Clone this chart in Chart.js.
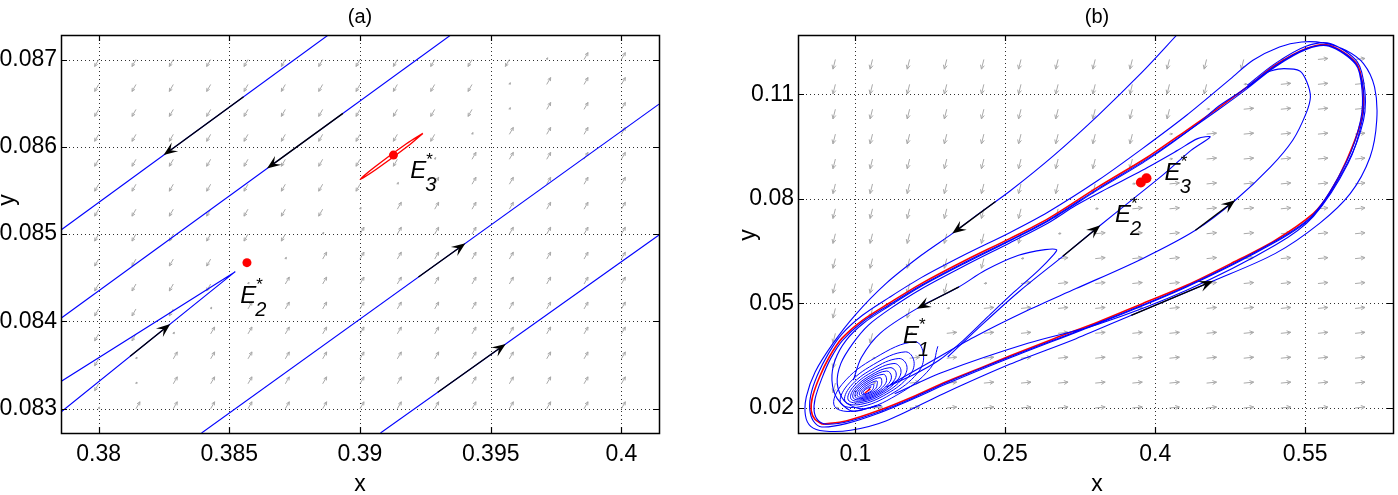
<!DOCTYPE html>
<html><head><meta charset="utf-8">
<script src="https://cdn.jsdelivr.net/npm/chart.js@4/dist/chart.umd.min.js"></script>
<style>
html,body{margin:0;padding:0;background:#fff;}
body{width:1398px;height:495px;overflow:hidden;position:relative;}
.p{position:absolute;top:0;}
</style></head><body>
<div class="p" style="left:0;width:700px;height:495px"><canvas id="ca" width="700" height="495"></canvas></div>
<div class="p" style="left:700px;width:698px;height:495px"><canvas id="cb" width="698" height="495"></canvas></div>
<script>
// ---------------- Panel (a) data ----------------
const aXTicks = [0.38, 0.385, 0.39, 0.395, 0.4];
const aXTickLabels = ['0.38', '0.385', '0.39', '0.395', '0.4'];
const aYTicks = [0.083, 0.084, 0.085, 0.086, 0.087];
const aYTickLabels = ['0.083', '0.084', '0.085', '0.086', '0.087'];
const aXRange = [0.37856, 0.40144];
const aYRange = [0.082722, 0.087281];
const aTraj1 = [[0.37856, 0.085047], [0.388784, 0.087281]];
const aTraj2 = [[0.37856, 0.084037], [0.393472, 0.087281]];
const aTraj3 = [[0.383939, 0.082722], [0.40144, 0.086489]];
const aTraj4 = [[0.390784, 0.082722], [0.40144, 0.08499]];
const aTrajV = [[0.37856, 0.082962], [0.385228, 0.08457], [0.37856, 0.083312]];
const aE3Loop = [[0.392405, 0.086154], [0.391837, 0.086009], [0.390638, 0.085746], [0.390008, 0.085627],
                 [0.390576, 0.085772], [0.391775, 0.086035], [0.392405, 0.086154]];
const aEqX = [0.385675, 0.39128];
const aEqY = [0.084673, 0.085905];
const aArrows = [
  [0.385545, 0.086573, 0.382486, 0.085905],
  [0.389346, 0.086383, 0.38644, 0.085751],
  [0.392237, 0.084508, 0.394034, 0.084895],
  [0.392975, 0.083188, 0.395576, 0.083742],
  [0.381205, 0.0836, 0.382742, 0.083971]
];
const aLabels = [['E', '3', 0.39192, 0.085639], ['E', '2', 0.385419, 0.084212]];
const aQX = [0.38, 0.3814286, 0.3828571, 0.3842857, 0.3857143, 0.3871429, 0.3885714, 0.39, 0.3914286, 0.3928571, 0.3942857, 0.3957143, 0.3971429, 0.3985714, 0.4];
const aQY = [0.087, 0.0867143, 0.0864286, 0.0861429, 0.0858571, 0.0855714, 0.0852857, 0.085, 0.0847143, 0.0844286, 0.0841429, 0.0838571, 0.0835714, 0.0832857, 0.083];
const aQPattern = [
  'LLLLLLLLLLLLsRR',
  'LLLLLLLLLLLsRRR',
  'LLLLLLLLLLLsRRR',
  'LLLLLLLLLLsRRRR',
  'LLLLLLLLLsRRRRR',
  'LLLLLLLLsRRRRRR',
  'LLLLLLLsRRRRRRR',
  'LLLLLLsRRRRRRRR',
  'LLLLLsRRRRRRRRR',
  'LLLLsRRRRRRRRRR',
  'LLLsRRRRRRRRRRR',
  'LLsRRRRRRRRRRRR',
  'LsRRRRRRRRRRRRR',
  'LsRRRRRRRRRRRRR',
  'sRRRRRRRRRRRRRR'
];
const aQDir = {L: [-0.0000191, -0.00000995], R: [0.0000191, 0.00000995], s: [0.0000191, 0.00000995]};

// ---------------- Panel (b) data ----------------
const bXTicks = [0.1, 0.25, 0.4, 0.55];
const bXTickLabels = ['0.1', '0.25', '0.4', '0.55'];
const bYTicks = [0.02, 0.05, 0.08, 0.11];
const bYTickLabels = ['0.02', '0.05', '0.08', '0.11'];
const bXRange = [0.04259, 0.63795];
const bYRange = [0.01283, 0.12701];
const bCycle = [[0.06726,0.01533],[0.09071,0.01628],[0.12389,0.01934],[0.15708,0.02317],[0.19027,0.02747],[0.22345,0.0313],[0.2562,0.03512],[0.29867,0.0399],[0.34292,0.04469],[0.38717,0.04994],[0.43142,0.0552],[0.47566,0.06142],[0.51991,0.06811],[0.5584,0.07586],[0.57434,0.0816],[0.5916,0.09107],[0.6062,0.10254],[0.60796,0.11115],[0.60133,0.11889],[0.57434,0.12406],[0.55177,0.1232],[0.51991,0.11832],[0.49204,0.1121],[0.46239,0.10589],[0.43142,0.09967],[0.39248,0.09202],[0.34292,0.08342],[0.29292,0.07433],[0.25442,0.06859],[0.21018,0.06238],[0.16593,0.05568],[0.13363,0.05004],[0.10708,0.04516],[0.08628,0.0399],[0.07389,0.03464],[0.06416,0.02891],[0.05708,0.02317],[0.05575,0.01934],[0.05973,0.01667],[0.06726,0.01533]];
const bOuter = [[0.42168,0.12702],[0.38717,0.11641],[0.34292,0.10398],[0.29867,0.0925],[0.25442,0.0822],[0.22345,0.07576],[0.1969,0.07003],[0.16593,0.06381],[0.13053,0.05568],[0.09956,0.0466],[0.07743,0.03847],[0.05973,0.03034],[0.05088,0.02317],[0.05,0.01791],[0.05531,0.01475],[0.06858,0.01341],[0.09513,0.0136],[0.13053,0.01628],[0.18805,0.02412],[0.25442,0.03254],[0.3208,0.0399],[0.37611,0.0466],[0.45796,0.05645],[0.51991,0.06429],[0.56416,0.0729],[0.59513,0.0815],[0.61504,0.09202],[0.62168,0.10254],[0.61947,0.1121],[0.60841,0.1188],[0.59071,0.12262],[0.56858,0.12473],[0.54646,0.12501],[0.52434,0.12358],[0.49779,0.11975],[0.47566,0.11449],[0.43142,0.10398],[0.38717,0.09441],[0.34292,0.08533],[0.29292,0.07624],[0.25442,0.07031],[0.21018,0.0641],[0.16593,0.0574],[0.13363,0.05167],[0.10708,0.0466],[0.08628,0.04115],[0.07301,0.0356],[0.06195,0.02938],[0.05531,0.02365],[0.05442,0.01934],[0.05796,0.01628],[0.06637,0.01456],[0.09071,0.01552],[0.12389,0.01858],[0.15708,0.0225],[0.19027,0.0268],[0.2562,0.03455],[0.34292,0.04421],[0.43142,0.05473],[0.51991,0.06754],[0.5584,0.07529],[0.59292,0.09059],[0.60841,0.10254],[0.60973,0.11115],[0.60221,0.11928],[0.57522,0.12454],[0.55088,0.12377],[0.51991,0.1188],[0.49204,0.11258]];
const bLow = [[0.13938,0.02412],[0.18805,0.03034],[0.27257,0.03856],[0.34292,0.04402],[0.43142,0.05377],[0.51991,0.06668],[0.5584,0.075],[0.59292,0.09011],[0.6071,0.10254],[0.60841,0.11115],[0.60044,0.11861],[0.5739,0.12377],[0.55177,0.12291],[0.51991,0.11784],[0.49204,0.11163],[0.46239,0.10541],[0.43142,0.0992],[0.39248,0.09154],[0.34292,0.08294],[0.29292,0.07385],[0.25442,0.06811],[0.21018,0.0619],[0.16593,0.0552],[0.13363,0.04956],[0.10708,0.04469],[0.08717,0.03942],[0.07522,0.03417],[0.06637,0.02843],[0.05973,0.02269],[0.05885,0.01887],[0.06327,0.01628],[0.07301,0.01533],[0.09513,0.01628],[0.12389,0.0189],[0.15708,0.02279],[0.19027,0.02719],[0.2562,0.03484],[0.34292,0.0444],[0.43142,0.05492],[0.51991,0.06783],[0.5584,0.07557],[0.5916,0.0908],[0.6055,0.10254],[0.607,0.11115],[0.6003,0.119],[0.5743,0.1239],[0.5515,0.1231],[0.5199,0.1181],[0.492,0.1119]];
const bBig = [[0.13496,0.0267],[0.17478,0.03321],[0.21903,0.04038],[0.27257,0.04803],[0.3208,0.05425],[0.38717,0.06285],[0.44027,0.07098],[0.48009,0.07959],[0.51549,0.08915],[0.53761,0.0968],[0.55088,0.10445],[0.55531,0.10923],[0.55177,0.11354],[0.54469,0.11669],[0.52876,0.11736],[0.51549,0.11669],[0.50841,0.11574],[0.50088,0.11402],[0.48496,0.11067],[0.46239,0.10637],[0.44204,0.10139],[0.39248,0.09126],[0.34292,0.08265],[0.29292,0.07366],[0.25442,0.06792],[0.21018,0.06161],[0.16593,0.05492],[0.13363,0.04918],[0.10841,0.0444],[0.09071,0.03942],[0.07965,0.03369],[0.07655,0.02795],[0.08186,0.02269],[0.09735,0.01911],[0.12168,0.02078]];
const bMid = [[0.19248,0.03464],[0.22788,0.04421],[0.26327,0.05329],[0.30752,0.06352],[0.34513,0.07242],[0.37832,0.08007],[0.40929,0.08724],[0.43584,0.09393],[0.455,0.09776],[0.44248,0.09728],[0.42257,0.09393],[0.38717,0.0882],[0.35177,0.08294],[0.3208,0.07816],[0.29292,0.07309],[0.25442,0.06735],[0.21018,0.06094],[0.16593,0.05415],[0.13496,0.04851],[0.11283,0.04373],[0.09735,0.03847],[0.0854,0.03273],[0.08186,0.02699],[0.0885,0.02221],[0.10398,0.01982],[0.12611,0.02078]];
const bTri = [[0.098,0.028],[0.106,0.0345],[0.125,0.0415],[0.1615,0.04851],[0.20354,0.05473],[0.23,0.0595],[0.26327,0.06381],[0.28982,0.06544],[0.30133,0.06544],[0.29867,0.0641],[0.28319,0.05951],[0.25885,0.05329],[0.2323,0.04612],[0.20796,0.03942],[0.18363,0.03369],[0.15708,0.02938],[0.13053,0.02604]];
const bSpiral = [
 [0.18254,0.03771],[0.175,0.03139],[0.14159,0.02373],[0.10189,0.01921],[0.07915,0.02049],[0.08669,0.0268],[0.1201,0.03446],[0.1598,0.03898],
 [0.16822,0.0351],[0.16219,0.03004],[0.13546,0.02392],[0.1037,0.0203],[0.08551,0.02132],[0.09154,0.02637],[0.11827,0.0325],[0.15003,0.03611],
 [0.15867,0.03335],[0.15364,0.02914],[0.13137,0.02404],[0.1049,0.02103],[0.08974,0.02187],[0.09477,0.02609],[0.11704,0.03119],[0.14351,0.0342],
 [0.15151,0.03205],[0.14724,0.02847],[0.12831,0.02413],[0.10581,0.02157],[0.09292,0.02229],[0.0972,0.02587],[0.11613,0.03021],[0.13863,0.03277],
 [0.14555,0.03096],[0.1419,0.02791],[0.12575,0.02421],[0.10656,0.02202],[0.09557,0.02264],[0.09922,0.02569],[0.11537,0.02939],[0.13456,0.03158],
 [0.14077,0.03009],[0.13763,0.02746],[0.12371,0.02427],[0.10717,0.02239],[0.09769,0.02292],[0.10084,0.02555],[0.11476,0.02874],[0.1313,0.03062],
 [0.136,0.02922],[0.13336,0.02701],[0.12167,0.02433],[0.10777,0.02275],[0.09981,0.02319],[0.10245,0.0254],[0.11415,0.02808],[0.12804,0.02967],
 [0.13123,0.02835],[0.12909,0.02656],[0.11962,0.02439],[0.10838,0.02311],[0.10193,0.02347],[0.10407,0.02526],[0.11353,0.02743],[0.12478,0.02871],
 [0.12645,0.02748],[0.12482,0.02611],[0.11758,0.02445],[0.10898,0.02347],[0.10405,0.02375],[0.10569,0.02512],[0.11292,0.02678],[0.12153,0.02775],
 [0.12168,0.02661],[0.12055,0.02566],[0.11554,0.02451],[0.10958,0.02384],[0.10617,0.02403],[0.1073,0.02497],[0.11231,0.02612],[0.11827,0.0268],
 [0.1181,0.02596],[0.11735,0.02532],[0.11401,0.02456],[0.11004,0.02411],[0.10776,0.02423],[0.10852,0.02487],[0.11186,0.02563],[0.11583,0.02608],
 [0.1125,0.0252]
];
const bE1Mark = [[0.1095, 0.0243], [0.115, 0.0255]];
const bEqX = [0.385675, 0.39128];
const bEqY = [0.084673, 0.085905];
const bArrows = [
  [0.24029, 0.07924, 0.1969, 0.07003],
  [0.20354, 0.05473, 0.1615, 0.04851],
  [0.30752, 0.06352, 0.34513, 0.07242],
  [0.44027, 0.07098, 0.48009, 0.07959],
  [0.37611, 0.0466, 0.45796, 0.05645]
];
const bLabels = [['E', '3', 0.40943, 0.08533], ['E', '2', 0.35968, 0.07334], ['E', '1', 0.14776, 0.03856]];
const bQX = [0.08, 0.1171429, 0.1542857, 0.1914286, 0.2285714, 0.2657143, 0.3028571, 0.34, 0.3771429, 0.4142857, 0.4514286, 0.4885714, 0.5257143, 0.5628571, 0.6];
const bQY = [0.12, 0.1128571, 0.1057143, 0.0985714, 0.0914286, 0.0842857, 0.0771429, 0.07, 0.0628571, 0.0557143, 0.0485714, 0.0414286, 0.0342857, 0.0271429, 0.02];
const bQPattern = [
  'LLLLLLLLLLLLsRR',
  'LLLLLLLLLLLsRRR',
  'LLLLLLLLLLsRRRR',
  'LLLLLLLLLsRRRRR',
  'LLLLLLLLLsRRRRR',
  'LLLLLLLLsRRRRRR',
  'LLLLLLLsRRRRRRR',
  'LLLLLLsRRRRRRRR',
  'LLLLLsRRRRRRRRR',
  'LLLLsRRRRRRRRRR',
  'LLLsRRRRRRRRRRR',
  'LLsRRRRRRRRRRRR',
  'LsRRRRRRRRRRRRR',
  'LsRRRRRRRRRRRRR',
  'sRRRRRRRRRRRRRR'
];
const bQDir = {L: [-0.00025, -0.000287], R: [0.001, 0.0000287], s: [0.001, 0.0000287]};

// ---------------- helpers ----------------
const FONT = '"Liberation Sans", Arial, Helvetica, sans-serif';
const toPts = arr => arr.map(p => ({x: p[0], y: p[1]}));
function lineDS(arr, color, width, order, tension) {
  return {type: 'scatter', data: toPts(arr), showLine: true, borderColor: color, backgroundColor: color,
          borderWidth: width, pointRadius: 0, pointHoverRadius: 0, tension: tension || 0, order: order};
}

function makeDeco(cfg) {
  return {
    id: 'deco' + cfg.name,
    beforeDatasetsDraw(chart) {
      const ctx = chart.ctx, a = chart.chartArea, xs = chart.scales.x, ys = chart.scales.y;
      ctx.save();
      ctx.beginPath(); ctx.rect(a.left, a.top, a.right - a.left, a.bottom - a.top); ctx.clip();
      // dotted grid
      ctx.strokeStyle = '#303030'; ctx.lineWidth = 1; ctx.setLineDash([1, 3]);
      ctx.beginPath();
      cfg.xTicks.forEach(v => { const p = Math.round(xs.getPixelForValue(v)) + 0.5; ctx.moveTo(p, a.top); ctx.lineTo(p, a.bottom); });
      cfg.yTicks.forEach(v => { const p = Math.round(ys.getPixelForValue(v)) + 0.5; ctx.moveTo(a.left, p); ctx.lineTo(a.right, p); });
      ctx.stroke(); ctx.setLineDash([]);
      // quiver field
      ctx.strokeStyle = '#a9a9a9'; ctx.lineWidth = 1;
      ctx.beginPath();
      cfg.qPattern.forEach((row, ri) => {
        for (let ci = 0; ci < row.length; ci++) {
          const ch = row[ci]; const d = cfg.qDir[ch]; if (!d) continue;
          const gx = cfg.qX[ci], gy = cfg.qY[ri];
          const x0 = xs.getPixelForValue(gx), y0 = ys.getPixelForValue(gy);
          let dx = xs.getPixelForValue(gx + d[0]) - x0, dy = ys.getPixelForValue(gy + d[1]) - y0;
          const n = Math.hypot(dx, dy) || 1; dx /= n; dy /= n;
          const len = ch === 's' ? cfg.qSmall : cfg.qLen;
          const tx = x0 + dx * len, ty = y0 + dy * len;
          ctx.moveTo(x0, y0); ctx.lineTo(tx, ty);
          const h = Math.max(2, len * 0.45), ang = 0.45;
          for (const s of [-1, 1]) {
            const c = Math.cos(ang * s), sn = Math.sin(ang * s);
            const bx = -dx * c + dy * sn, by = -dx * sn - dy * c;
            ctx.moveTo(tx, ty); ctx.lineTo(tx + bx * h, ty + by * h);
          }
        }
      });
      ctx.stroke();
      ctx.restore();
    },
    afterDatasetsDraw(chart) {
      const ctx = chart.ctx, a = chart.chartArea, xs = chart.scales.x, ys = chart.scales.y;
      ctx.save();
      // black trajectory arrows
      ctx.strokeStyle = '#000'; ctx.fillStyle = '#000'; ctx.lineWidth = 1.3;
      cfg.arrows.forEach(ar => {
        const x0 = xs.getPixelForValue(ar[0]), y0 = ys.getPixelForValue(ar[1]);
        const x1 = xs.getPixelForValue(ar[2]), y1 = ys.getPixelForValue(ar[3]);
        let dx = x1 - x0, dy = y1 - y0; const n = Math.hypot(dx, dy); dx /= n; dy /= n;
        const L = 14, W = 5.5;
        ctx.beginPath(); ctx.moveTo(x0, y0); ctx.lineTo(x1 - dx * L * 0.6, y1 - dy * L * 0.6); ctx.stroke();
        ctx.beginPath();
        ctx.moveTo(x1, y1);
        ctx.lineTo(x1 - dx * L - dy * W, y1 - dy * L + dx * W);
        ctx.lineTo(x1 - dx * L * 0.6, y1 - dy * L * 0.6);
        ctx.lineTo(x1 - dx * L + dy * W, y1 - dy * L - dx * W);
        ctx.closePath(); ctx.fill();
      });
      // box
      ctx.strokeStyle = '#000'; ctx.lineWidth = 1.5;
      ctx.strokeRect(Math.round(a.left) + 0.5, Math.round(a.top) + 0.5, Math.round(a.right - a.left), Math.round(a.bottom - a.top));
      // inward ticks
      ctx.lineWidth = 1.2; ctx.beginPath();
      cfg.xTicks.forEach(v => { const p = Math.round(xs.getPixelForValue(v)) + 0.5; ctx.moveTo(p, a.bottom); ctx.lineTo(p, a.bottom - 6); ctx.moveTo(p, a.top); ctx.lineTo(p, a.top + 6); });
      cfg.yTicks.forEach(v => { const p = Math.round(ys.getPixelForValue(v)) + 0.5; ctx.moveTo(a.left, p); ctx.lineTo(a.left + 6, p); ctx.moveTo(a.right, p); ctx.lineTo(a.right - 6, p); });
      ctx.stroke();
      // equilibrium labels  E_k^*
      ctx.fillStyle = '#000'; ctx.textBaseline = 'alphabetic'; ctx.textAlign = 'left';
      cfg.labels.forEach(lb => {
        const px = xs.getPixelForValue(lb[2]), py = ys.getPixelForValue(lb[3]);
        ctx.font = 'italic 24px ' + FONT; ctx.fillText(lb[0], px, py);
        const w = ctx.measureText(lb[0]).width;
        ctx.font = 'italic 20px ' + FONT; ctx.fillText(lb[1], px + w - 1, py + 13);
        ctx.font = '17px ' + FONT; ctx.fillText('*', px + w, py - 13);
      });
      // panel title and axis titles
      ctx.textAlign = 'center';
      ctx.font = '20px ' + FONT; ctx.fillText(cfg.title, cfg.titlePos[0], cfg.titlePos[1]);
      ctx.font = '23px ' + FONT; ctx.fillText('x', cfg.xTitlePos[0], cfg.xTitlePos[1]);
      ctx.save(); ctx.translate(cfg.yTitlePos[0], cfg.yTitlePos[1]); ctx.rotate(-Math.PI / 2);
      ctx.textBaseline = 'middle'; ctx.fillText('y', 0, 0); ctx.restore();
      ctx.restore();
    }
  };
}

function makeChart(id, cfg, datasets) {
  return new Chart(document.getElementById(id), {
    type: 'scatter',
    data: {datasets: datasets},
    options: {
      responsive: false, devicePixelRatio: 1, animation: false,
      layout: {padding: cfg.padding},
      plugins: {legend: {display: false}, tooltip: {enabled: false}, title: {display: false}},
      scales: {
        x: {type: 'linear', min: cfg.xRange[0], max: cfg.xRange[1],
            afterBuildTicks: s => { s.ticks = cfg.xTicks.map(v => ({value: v})); },
            afterFit: s => { s.height = cfg.xAxisH; },
            ticks: {callback: (v, i) => cfg.xTickLabels[i], autoSkip: false, maxRotation: 0, padding: 8, color: '#000', font: {family: FONT, size: 23}},
            grid: {display: false, drawTicks: false}, border: {display: false}},
        y: {type: 'linear', min: cfg.yRange[0], max: cfg.yRange[1],
            afterBuildTicks: s => { s.ticks = cfg.yTicks.map(v => ({value: v})); },
            afterFit: s => { s.width = cfg.yAxisW; },
            ticks: {callback: (v, i) => cfg.yTickLabels[i], autoSkip: false, padding: 4, color: '#000', font: {family: FONT, size: 23}},
            grid: {display: false, drawTicks: false}, border: {display: false}}
      }
    },
    plugins: [makeDeco(cfg)]
  });
}

const BLUE = '#0000ff', RED = '#ff0000';

makeChart('ca', {
  name: 'A', xRange: aXRange, yRange: aYRange, xTicks: aXTicks, yTicks: aYTicks,
  xTickLabels: aXTickLabels, yTickLabels: aYTickLabels,
  padding: {left: 0, right: 41, top: 35, bottom: 0}, xAxisH: 62, yAxisW: 61,
  qX: aQX, qY: aQY, qPattern: aQPattern, qDir: aQDir, qLen: 8, qSmall: 2,
  arrows: aArrows, labels: aLabels,
  title: '(a)', titlePos: [360, 23], xTitlePos: [360, 491], yTitlePos: [8, 200]
}, [
  {type: 'scatter', data: aEqX.map((x, i) => ({x: x, y: aEqY[i]})), pointRadius: 4.5, pointBackgroundColor: RED, pointBorderColor: RED, pointBorderWidth: 0, showLine: false, order: 0},
  lineDS(aE3Loop, RED, 1.4, 1, 0.35),
  lineDS(aTraj1, BLUE, 1.1, 2),
  lineDS(aTraj2, BLUE, 1.1, 2),
  lineDS(aTraj3, BLUE, 1.1, 2),
  lineDS(aTraj4, BLUE, 1.1, 2),
  lineDS(aTrajV, BLUE, 1.1, 2)
]);

makeChart('cb', {
  name: 'B', xRange: bXRange, yRange: bYRange, xTicks: bXTicks, yTicks: bYTicks,
  xTickLabels: bXTickLabels, yTickLabels: bYTickLabels,
  padding: {left: 0, right: 1, top: 35, bottom: 0}, xAxisH: 62, yAxisW: 98,
  qX: bQX, qY: bQY, qPattern: bQPattern, qDir: bQDir, qLen: 10, qSmall: 3,
  arrows: bArrows, labels: bLabels,
  title: '(b)', titlePos: [397, 23], xTitlePos: [397, 491], yTitlePos: [49, 235]
}, [
  {type: 'scatter', data: bEqX.map((x, i) => ({x: x, y: bEqY[i]})), pointRadius: 5, pointBackgroundColor: RED, pointBorderColor: RED, pointBorderWidth: 0, showLine: false, order: 0},
  lineDS(bE1Mark, RED, 1.5, 1),
  lineDS(bOuter, BLUE, 1.1, 2, 0.3),
  lineDS(bLow, BLUE, 1.1, 2, 0.3),
  lineDS(bBig, BLUE, 1.1, 2, 0.3),
  lineDS(bMid, BLUE, 1.1, 2, 0.3),
  lineDS(bTri, BLUE, 1.1, 2, 0.3),
  lineDS(bSpiral, BLUE, 1.0, 2, 0.4),
  lineDS(bCycle, RED, 1.6, 3, 0.3)
]);
</script>
</body></html>
